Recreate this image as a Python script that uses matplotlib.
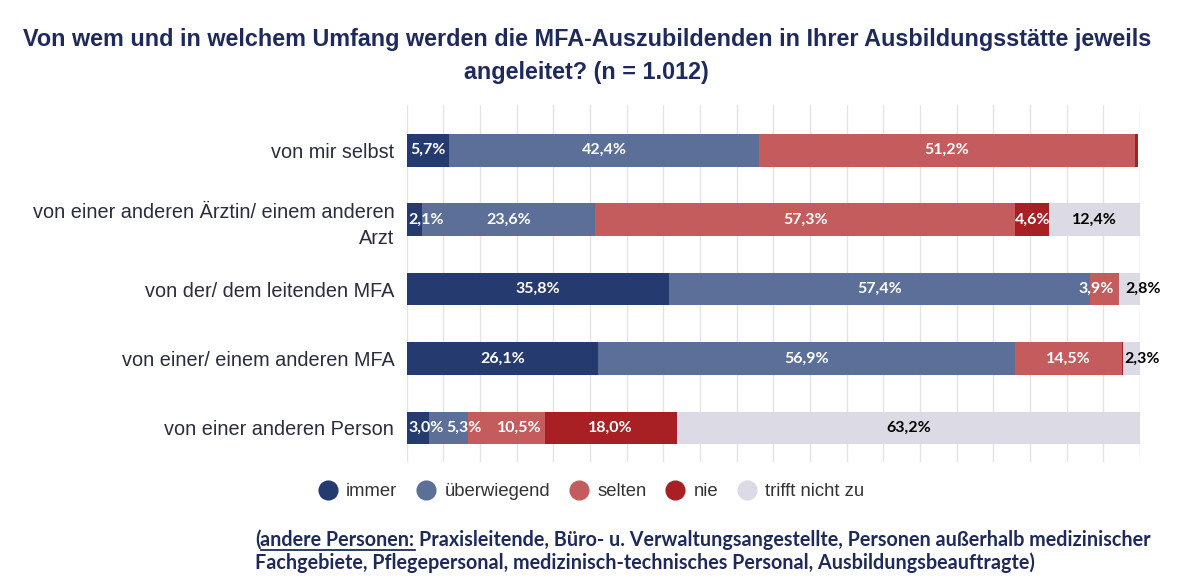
import numpy as np
import matplotlib.pyplot as plt
from matplotlib.lines import Line2D

# Daten
kategorien = ['von mir selbst',
              'von einer anderen Ärztin/ einem anderen\nArzt',
              'von der/ dem leitenden MFA',
              'von einer/ einem anderen MFA',
              'von einer anderen Person']
serien = ['immer', 'überwiegend', 'selten', 'nie', 'trifft nicht zu']
immer = [5.7, 2.1, 35.8, 26.1, 3.0]
ueberwiegend = [42.4, 23.6, 57.4, 56.9, 5.3]
selten = [51.2, 57.3, 3.9, 14.5, 10.5]
nie = [0.4, 4.6, 0.1, 0.2, 18.0]
trifft_nicht = [0.0, 12.4, 2.8, 2.3, 63.2]
# nur diese Werte sind im Bild beschriftet
beschriftet = [[5.7, 42.4, 51.2, None, None],
               [2.1, 23.6, 57.3, 4.6, 12.4],
               [35.8, 57.4, 3.9, None, 2.8],
               [26.1, 56.9, 14.5, None, 2.3],
               [3.0, 5.3, 10.5, 18.0, 63.2]]
# kleine Verschiebungen der Beschriftungen (Zeile, Serie) -> Prozentpunkte
verschiebung = {(4, 1): 2.2, (4, 2): 1.8, (2, 2): -1.1, (2, 4): 0.6}

farben = ['#253a6e', '#5b6f98', '#c45c5d', '#a81f24', '#dcdae5']
textfarben = ['white', 'white', 'white', 'white', 'black']

werte = np.array([immer, ueberwiegend, selten, nie, trifft_nicht])

fig = plt.figure(figsize=(12, 5.87), dpi=100)
ax = fig.add_axes([0.339, 0.213, 0.611, 0.608])

y = np.arange(len(kategorien))
links = np.zeros(len(kategorien))
for i, name in enumerate(serien):
    ax.barh(y, werte[i], left=links, height=0.47, color=farben[i],
            label=name, zorder=2)
    for j in range(len(kategorien)):
        lab = beschriftet[j][i]
        if lab is not None:
            txt = f'{lab:.1f}%'.replace('.', ',')
            dx = verschiebung.get((j, i), 0)
            if lab < 3.5:
                xpos, ha = links[j] + 0.2 + dx, 'left'
            else:
                xpos, ha = links[j] + werte[i][j] / 2 + dx, 'center'
            ax.text(xpos, y[j], txt, ha=ha, va='center', color=textfarben[i],
                    fontsize=11.5, fontweight='bold', family='Lato', zorder=3)
    links += werte[i]

ax.set_xlim(0, 100)
ax.set_ylim(4.49, -0.65)
ax.set_xticks(np.arange(0, 101, 5))
ax.set_xticklabels([])
ax.tick_params(length=0)
ax.grid(axis='x', color='#e3e3e3', lw=1, zorder=0)
ax.set_yticks(y)
ax.set_yticklabels(kategorien, fontsize=14.3, color='#2a2d3e',
                   family='Liberation Sans', ha='right', linespacing=1.5)
ax.tick_params(axis='y', pad=9)
for s in ax.spines.values():
    s.set_visible(False)

fig.text(0.489, 0.932, 'Von wem und in welchem Umfang werden die MFA-Auszubildenden in Ihrer Ausbildungsstätte jeweils',
         ha='center', va='center', fontsize=16.8, fontweight='bold',
         color='#1f2a5c', family='Liberation Sans')
fig.text(0.489, 0.876, 'angeleitet? (n = 1.012)', ha='center', va='center',
         fontsize=16.8, fontweight='bold', color='#1f2a5c', family='Liberation Sans')

handles = [Line2D([], [], marker='o', ls='', markersize=13.5, color=c) for c in farben]
fig.legend(handles, serien, loc='center', bbox_to_anchor=(0.489, 0.162), ncol=5,
           frameon=False, handletextpad=0.0, columnspacing=0.55,
           prop={'family': 'Liberation Sans', 'size': 13.3},
           labelcolor='#333333')

# Fußnote
navy = '#1f2a5c'
fs = 14.2
r = fig.canvas.get_renderer()
t0 = fig.text(0.2125, 0.070, '(', ha='left', va='baseline', fontsize=fs,
              fontweight='bold', color=navy, family='Lato')
bb = t0.get_window_extent(r)
t1 = fig.text(bb.x1 / 1200, 0.070, 'andere Personen:', ha='left', va='baseline',
              fontsize=fs, fontweight='bold', color=navy, family='Lato')
bb1 = t1.get_window_extent(r)
fig.add_artist(Line2D([bb1.x0 / 1200, bb1.x1 / 1200], [0.063, 0.063],
                      color=navy, lw=1.3))
fig.text(bb1.x1 / 1200 + 0.004, 0.070,
         'Praxisleitende, Büro- u. Verwaltungsangestellte, Personen außerhalb medizinischer',
         ha='left', va='baseline', fontsize=fs, fontweight='bold', color=navy, family='Lato')
fig.text(0.2125, 0.030,
         'Fachgebiete, Pflegepersonal, medizinisch-technisches Personal, Ausbildungsbeauftragte)',
         ha='left', va='baseline', fontsize=fs, fontweight='bold', color=navy, family='Lato')

fig.savefig('out.png', dpi=100)
